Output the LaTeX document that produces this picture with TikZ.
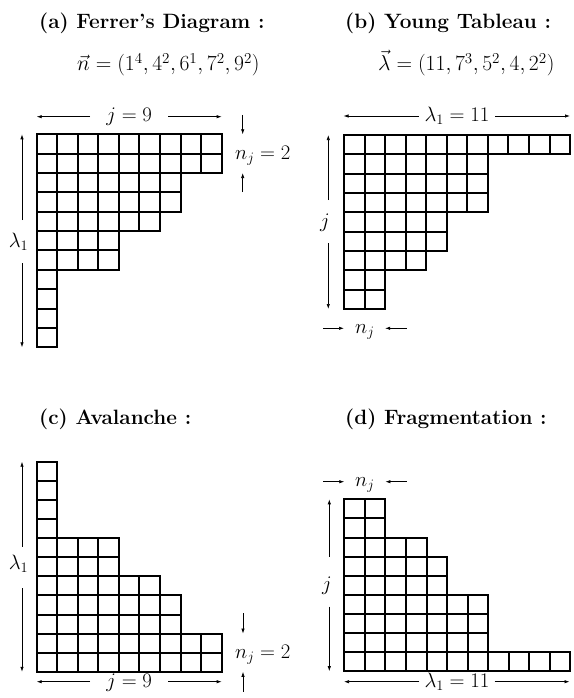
\RequirePackage{fix-cm}
\documentclass[tikz,border=0pt]{standalone}
\usetikzlibrary{arrows.meta}
\newcommand\ferrergrid[4]{%
  \foreach \LL [count=\ii from 0] in {#4} {
    \foreach \cc in {1,...,\LL} {
      \pgfmathsetmacro\xa{round(#1+(\cc-1)*20.55)}
      \pgfmathsetmacro\xb{round(#1+\cc*20.55)}
      \pgfmathsetmacro\ya{round(#2+\ii*#3)}
      \pgfmathsetmacro\yb{round(#2+(\ii+1)*#3)}
      \draw[cell] (\xa,\ya) rectangle (\xb,\yb);
    }
  }%
}
\begin{document}
\begin{tikzpicture}[x=1pt,y=-1pt,
  cell/.style={line width=2pt, line join=miter},
  arr/.style={line width=0.7pt,-{Latex[length=5pt,width=3.4pt]}},
  lbl/.style={inner sep=0pt, font=\fontsize{20.74}{25}\selectfont},
  frm/.style={inner sep=0pt, anchor=base west, font=\fontsize{21.6}{26}\selectfont},
  ttl/.style={inner sep=0pt, anchor=base west, font=\fontsize{20.74}{25}\selectfont\bfseries},
]
\useasboundingbox[fill=white] (0,0) rectangle (573,698);

% ---------------- (a) ----------------
\node[ttl] (ta) at (39,29) {(a) Ferrer's Diagram :};
\node[frm] (fa) at (77,71) {$\vec{n}=(1^4,4^2,6^1,7^2,9^2)$};
\ferrergrid{36.7}{134.3}{19.36}{9,9,7,7,6,4,4,1,1,1,1}
\node[lbl, anchor=base, inner xsep=16pt] (ja) at (129.2,121.9) {$j=9$};
\coordinate (a-hl) at (36.7,116.7);
\coordinate (a-hr) at (221.65,116.7);
\draw[arr] (ja.west |- a-hl) -- (a-hl);
\draw[arr] (ja.east |- a-hr) -- (a-hr);
\node[lbl, anchor=base west] (na) at (235,159.3) {$n_j=2$};
\coordinate (a-nt0) at (242.7,115);
\coordinate (a-nt) at (242.7,134.3);
\coordinate (a-nb0) at (242.7,192);
\coordinate (a-nb) at (242.7,173);
\draw[arr] (a-nt0) -- (a-nt);
\draw[arr] (a-nb0) -- (a-nb);
\node[lbl] (la) at (18.5,241.7) {$\lambda_1$};
\coordinate (a-vt0) at (22,220);
\coordinate (a-vt) at (22,134.3);
\coordinate (a-vb0) at (22,263.3);
\coordinate (a-vb) at (22,347.3);
\draw[arr] (a-vt0) -- (a-vt);
\draw[arr] (a-vb0) -- (a-vb);

% ---------------- (b) ----------------
\node[ttl] (tb) at (345,29) {(b) Young Tableau :};
\node[frm] (fb) at (378,71) {$\vec{\lambda}=(11,7^3,5^2,4,2^2)$};
\ferrergrid{344}{135}{19.33}{11,7,7,7,5,5,4,2,2}
\node[lbl, anchor=base, inner xsep=5.5pt] (lb) at (457,121.3) {$\lambda_1=11$};
\coordinate (b-hl) at (343.5,116);
\coordinate (b-hr) at (570,116);
\draw[arr] (lb.west |- b-hl) -- (b-hl);
\draw[arr] (lb.east |- b-hr) -- (b-hr);
\node[lbl] (jb) at (325,222.5) {$j$};
\coordinate (b-vt0) at (328.3,200);
\coordinate (b-vt) at (328.3,135);
\coordinate (b-vb0) at (328.3,243);
\coordinate (b-vb) at (328.3,309);
\draw[arr] (b-vt0) -- (b-vt);
\draw[arr] (b-vb0) -- (b-vb);
\node[lbl, anchor=base west] (nb) at (355,333) {$n_j$};
\coordinate (b-nl0) at (323,328.3);
\coordinate (b-nl) at (344,328.3);
\coordinate (b-nr0) at (406.7,328.3);
\coordinate (b-nr) at (385.1,328.3);
\draw[arr] (b-nl0) -- (b-nl);
\draw[arr] (b-nr0) -- (b-nr);

% ---------------- (c) ----------------
\node[ttl] (tc) at (39,424.3) {(c) Avalanche :};
\ferrergrid{36.7}{461.7}{19.1}{1,1,1,1,4,4,6,7,7,9,9}
\node[lbl] (lc) at (18.5,564) {$\lambda_1$};
\coordinate (c-vt0) at (22,546.7);
\coordinate (c-vt) at (22,461.7);
\coordinate (c-vb0) at (22,588);
\coordinate (c-vb) at (22,671.8);
\draw[arr] (c-vt0) -- (c-vt);
\draw[arr] (c-vb0) -- (c-vb);
\node[lbl, anchor=base west] (nc) at (235,658.3) {$n_j=2$};
\coordinate (c-nt0) at (243,613);
\coordinate (c-nt) at (243,633.6);
\coordinate (c-nb0) at (243,691.7);
\coordinate (c-nb) at (243,671.8);
\draw[arr] (c-nt0) -- (c-nt);
\draw[arr] (c-nb0) -- (c-nb);
\node[lbl, anchor=base, inner xsep=16pt] (jc) at (129.2,687) {$j=9$};
\coordinate (c-hl) at (36.7,681.7);
\coordinate (c-hr) at (221.65,681.7);
\draw[arr] (jc.west |- c-hl) -- (c-hl);
\draw[arr] (jc.east |- c-hr) -- (c-hr);

% ---------------- (d) ----------------
\node[ttl] (td) at (345,424.3) {(d) Fragmentation :};
\ferrergrid{344.3}{499.3}{19.1}{2,2,4,5,5,7,7,7,11}
\node[lbl, anchor=base west] (nd) at (355,486.4) {$n_j$};
\coordinate (d-nl0) at (323,481.7);
\coordinate (d-nl) at (344.3,481.7);
\coordinate (d-nr0) at (406.7,481.7);
\coordinate (d-nr) at (385.4,481.7);
\draw[arr] (d-nl0) -- (d-nl);
\draw[arr] (d-nr0) -- (d-nr);
\node[lbl] (jd) at (327,586) {$j$};
\coordinate (d-vt0) at (329.3,556.7);
\coordinate (d-vt) at (329.3,499.3);
\coordinate (d-vb0) at (329.3,606.7);
\coordinate (d-vb) at (329.3,671.2);
\draw[arr] (d-vt0) -- (d-vt);
\draw[arr] (d-vb0) -- (d-vb);
\node[lbl, anchor=base, inner xsep=5pt] (ld) at (457,687) {$\lambda_1=11$};
\coordinate (d-hl) at (344,681.7);
\coordinate (d-hr) at (569.5,681.7);
\draw[arr] (ld.west |- d-hl) -- (d-hl);
\draw[arr] (ld.east |- d-hr) -- (d-hr);
\end{tikzpicture}
\end{document}
